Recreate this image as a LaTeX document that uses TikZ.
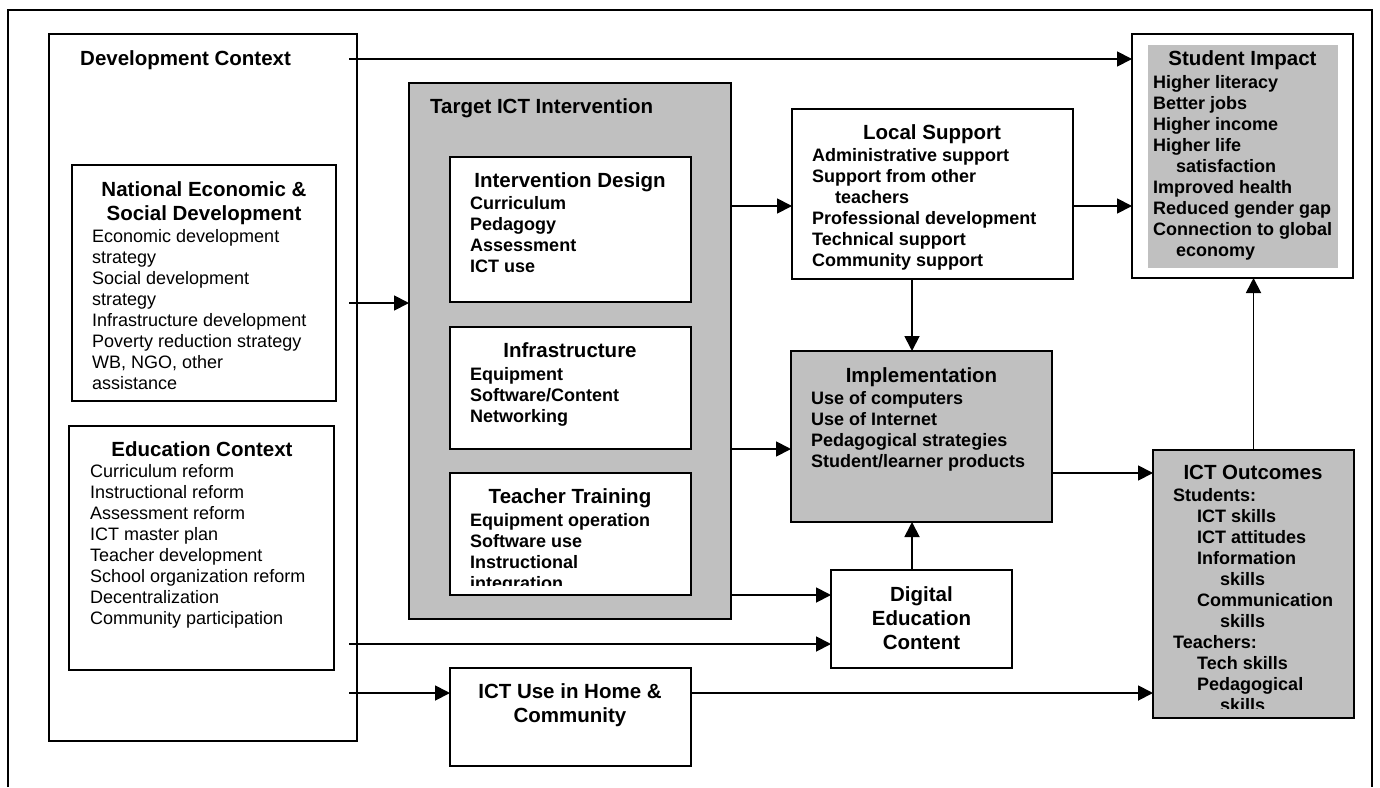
\documentclass[tikz,border=0pt]{standalone}
\usepackage{fontspec}
\setmainfont{Liberation Sans}
\usetikzlibrary{arrows.meta}
\definecolor{boxgray}{RGB}{192,192,192}
\tikzset{
  box/.style={draw, line width=1.9pt, anchor=north west, inner sep=0pt, outer sep=0pt},
  shaded/.style={box, fill=boxgray},
  title/.style={font=\fontsize{20.5}{24}\selectfont\bfseries, align=center, anchor=north, inner sep=0pt},
  items/.style={font=\fontsize{18}{21}\selectfont\bfseries, align=left, anchor=north west, inner sep=0pt},
  plain/.style={items, font=\fontsize{18}{21}\selectfont},
  arr/.style={-{Triangle[length=15pt,width=15pt]}, line width=1.8pt},
}
\begin{document}
\begin{tikzpicture}[x=1pt, y=-1pt]
  \useasboundingbox (0,0) rectangle (1380,787);
  % outer frame, open at the bottom
  \draw[line width=1.9pt] (8,787) -- (8,10) -- (1372,10) -- (1372,787);

  % development context column
  \node[box, minimum width=308, minimum height=707] (dc) at (49,34) {};
  \node[title, anchor=north west] (dc-t) at (80,50) {Development Context};
  \node[box, minimum width=264, minimum height=236] (ne) at (72,165) {};
  \node[title] (ne-t) at (204,181) {National Economic \&\\Social Development};
  \node[plain] (ne-i) at (92,229) {Economic development\\strategy\\Social development\\strategy\\Infrastructure development\\Poverty reduction strategy\\WB, NGO, other\\assistance};
  \node[box, minimum width=265, minimum height=244] (ec) at (69,426) {};
  \node[title] (ec-t) at (202,441) {Education Context};
  \node[plain] (ec-i) at (90,464) {Curriculum reform\\Instructional reform\\Assessment reform\\ICT master plan\\Teacher development\\School organization reform\\Decentralization\\Community participation};

  % target ICT intervention
  \node[shaded, minimum width=322, minimum height=536] (ti) at (409,83) {};
  \node[title, anchor=north west] (ti-t) at (430,98) {Target ICT Intervention};
  \node[box, fill=white, minimum width=241, minimum height=145] (id) at (450,157) {};
  \node[title] (id-t) at (570,172) {Intervention Design};
  \node[items] (id-i) at (470,196) {Curriculum\\Pedagogy\\Assessment\\ICT use};
  \node[box, fill=white, minimum width=241, minimum height=122] (inf) at (450,327) {};
  \node[title] (inf-t) at (570,342) {Infrastructure};
  \node[items] (inf-i) at (470,367) {Equipment\\Software/Content\\Networking};
  \node[box, fill=white, minimum width=241, minimum height=122] (tt) at (450,473) {};
  \node[title] (tt-t) at (570,488) {Teacher Training};
  \begin{scope}
    \clip (450,473) rectangle (691,585);
    \node[items] (tt-i) at (470,513) {Equipment operation\\Software use\\Instructional\\integration};
  \end{scope}
  \node[box, minimum width=241, minimum height=98] (use) at (450,668) {};
  \node[title] (use-t) at (570,683) {ICT Use in Home \&\\Community};

  % middle column
  \node[box, minimum width=281, minimum height=170] (ls) at (792,109) {};
  \node[title] (ls-t) at (932,124) {Local Support};
  \node[items] (ls-i) at (812,148) {Administrative support\\Support from other\\\hspace*{23pt}teachers\\Professional development\\Technical support\\Community support};
  \node[shaded, minimum width=261, minimum height=171] (impl) at (791,351) {};
  \node[title] (impl-t) at (921.5,367) {Implementation};
  \node[items] (impl-i) at (811,391) {Use of computers\\Use of Internet\\Pedagogical strategies\\Student/learner products};
  \node[box, minimum width=181, minimum height=98] (dig) at (831,570) {};
  \node[title] (dig-t) at (921.5,586) {Digital\\Education\\Content};

  % right column
  \node[box, minimum width=221, minimum height=244] (si) at (1132,34) {};
  \node[anchor=north west, fill=boxgray, inner sep=0pt, minimum width=190, minimum height=223] (si-bg) at (1148,45) {};
  \node[title] (si-t) at (1242.5,50) {Student Impact};
  \node[items] (si-i) at (1153,75) {Higher literacy\\Better jobs\\Higher income\\Higher life\\\hspace*{23pt}satisfaction\\Improved health\\Reduced gender gap\\Connection to global\\\hspace*{23pt}economy};
  \node[shaded, minimum width=201, minimum height=268] (out) at (1153,450) {};
  \node[title] (out-t) at (1253,465) {ICT Outcomes};
  \begin{scope}
    \clip (1153,450) rectangle (1354,708);
    \node[items] (out-i) at (1173,488) {Students:\\\hspace*{24pt}ICT skills\\\hspace*{24pt}ICT attitudes\\\hspace*{24pt}Information\\\hspace*{47pt}skills\\\hspace*{24pt}Communication\\\hspace*{47pt}skills\\Teachers:\\\hspace*{24pt}Tech skills\\\hspace*{24pt}Pedagogical\\\hspace*{47pt}skills};
  \end{scope}

  % connectors
  \coordinate (dc-o1) at (349,59);
  \coordinate (dc-o2) at (349,303);
  \coordinate (dc-o3) at (349,644);
  \coordinate (dc-o4) at (349,693);
  \coordinate (row-ls) at (0,206);
  \coordinate (row-impl) at (0,449);
  \coordinate (row-dig) at (0,595);
  \coordinate (row-out) at (0,473);
  \coordinate (col-mid) at (912,0);
  \draw[arr] (dc-o1) -- (dc-o1 -| si.west);
  \draw[arr] (dc-o2) -- (dc-o2 -| ti.west);
  \draw[arr] (dc-o3) -- (dc-o3 -| dig.west);
  \draw[arr] (dc-o4) -- (dc-o4 -| use.west);
  \draw[arr] (ti.east |- row-ls) -- (ls.west |- row-ls);
  \draw[arr] (ls.east |- row-ls) -- (si.west |- row-ls);
  \draw[arr] (ti.east |- row-impl) -- (impl.west |- row-impl);
  \draw[arr] (ti.east |- row-dig) -- (dig.west |- row-dig);
  \draw[arr] (ls.south -| col-mid) -- (impl.north -| col-mid);
  \draw[arr] (dig.north -| col-mid) -- (impl.south -| col-mid);
  \draw[arr] (impl.east |- row-out) -- (out.west |- row-out);
  \draw[arr] (use.east |- dc-o4) -- (out.west |- dc-o4);
  \draw[arr] (out.north) -- (out.north |- si.south);
\end{tikzpicture}
\end{document}
